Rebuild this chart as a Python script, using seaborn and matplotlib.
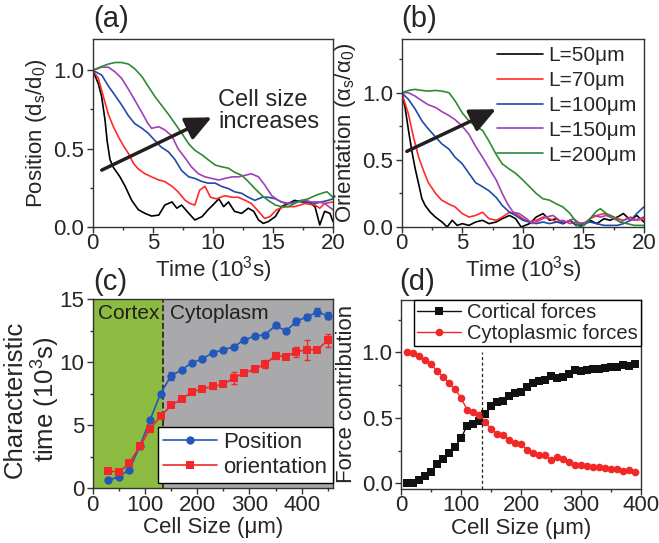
import matplotlib
matplotlib.use('Agg')
import numpy as np
import pandas as pd
import seaborn as sns
import matplotlib.pyplot as plt
from matplotlib.ticker import MultipleLocator
from matplotlib.lines import Line2D

# ---------------- data ----------------
# panel (a): position vs time, per cell size
a50_t = [0, 0.47, 0.75, 1.03, 1.2, 1.44, 1.72, 2.0, 2.27, 2.7, 3.0, 3.25, 3.8, 4.35, 4.9, 5.5, 6.0, 6.6, 7.0, 7.4,
         8.0, 8.5, 9.1, 9.6, 10.0, 10.5, 10.9, 11.3, 11.8, 12.4, 12.95, 13.4, 13.8, 14.2, 14.6, 15.2, 15.7, 16.3, 16.8, 17.4,
         17.95, 18.5, 18.9, 19.3, 19.75, 20]
a50_y = [1.0, 0.915, 0.83, 0.68, 0.55, 0.43, 0.38, 0.35, 0.32, 0.26, 0.21, 0.17, 0.11, 0.087, 0.07, 0.076, 0.14, 0.16, 0.12, 0.14,
         0.087, 0.045, 0.066, 0.11, 0.14, 0.18, 0.13, 0.16, 0.10, 0.087, 0.12, 0.10, 0.045, 0.023, 0.034, 0.066, 0.13, 0.15, 0.17, 0.16,
         0.16, 0.13, 0.013, 0.10, 0.087, 0.034]
a70_t = [0, 0.47, 0.9, 1.3, 1.72, 2.14, 2.55, 2.97, 3.4, 3.8, 4.35, 4.9, 5.5, 6.0, 6.6, 7.1, 7.7, 8.1, 8.5, 8.9,
         9.35, 9.8, 10.3, 11.0, 11.6, 12.1, 12.7, 13.2, 13.8, 14.3, 14.75, 15.3, 16.0, 16.8, 17.7, 18.5, 18.9, 19.3, 20]
a70_y = [1.0, 0.95, 0.83, 0.72, 0.64, 0.575, 0.52, 0.47, 0.405, 0.37, 0.34, 0.32, 0.30, 0.29, 0.26, 0.225, 0.17, 0.15, 0.14, 0.235,
         0.26, 0.19, 0.18, 0.20, 0.19, 0.19, 0.17, 0.15, 0.10, 0.055, 0.066, 0.11, 0.13, 0.13, 0.15, 0.14, 0.12, 0.15, 0.16]
a100_t = [0, 0.75, 1.3, 1.86, 2.4, 2.97, 3.5, 4.1, 4.6, 5.2, 5.7, 6.3, 6.85, 7.4, 8.0, 8.5, 9.1, 9.6, 10.2, 10.7,
          11.3, 11.8, 12.4, 12.95, 13.5, 14.1, 14.6, 15.2, 15.7, 16.3, 16.8, 17.4, 17.95, 18.5, 19.05, 19.6, 20]
a100_y = [1.0, 0.97, 0.90, 0.84, 0.78, 0.71, 0.66, 0.63, 0.60, 0.55, 0.51, 0.48, 0.43, 0.36, 0.32, 0.31, 0.29, 0.28, 0.28, 0.26,
          0.245, 0.225, 0.215, 0.19, 0.17, 0.19, 0.19, 0.18, 0.16, 0.15, 0.16, 0.17, 0.16, 0.15, 0.16, 0.17, 0.18]
a150_t = [0, 0.75, 1.3, 1.86, 2.4, 2.97, 3.5, 4.1, 4.6, 4.9, 5.5, 6.0, 6.6, 7.1, 7.7, 8.2, 8.8, 9.35, 9.9, 10.5,
          11.0, 11.6, 12.1, 12.7, 13.2, 13.8, 14.3, 14.9, 15.45, 16.0, 16.6, 17.1, 17.7, 18.2, 18.8, 19.3, 20]
a150_y = [1.0, 1.02, 1.02, 0.99, 0.95, 0.88, 0.81, 0.73, 0.66, 0.63, 0.64, 0.62, 0.58, 0.50, 0.44, 0.385, 0.34, 0.32, 0.31, 0.30,
          0.31, 0.32, 0.32, 0.33, 0.34, 0.32, 0.27, 0.20, 0.17, 0.15, 0.15, 0.16, 0.17, 0.16, 0.16, 0.15, 0.11]
a200_t = [0, 0.75, 1.3, 1.86, 2.4, 2.97, 3.5, 4.1, 4.6, 5.2, 5.7, 6.3, 6.85, 7.4, 8.0, 8.5, 9.1, 9.6, 10.2, 10.7,
          11.3, 11.8, 12.4, 12.95, 13.5, 14.1, 14.6, 15.2, 15.7, 16.3, 16.8, 17.4, 17.95, 18.5, 19.05, 19.5, 20]
a200_y = [1.0, 1.025, 1.04, 1.05, 1.05, 1.04, 1.01, 0.96, 0.90, 0.83, 0.78, 0.72, 0.66, 0.60, 0.53, 0.49, 0.46, 0.43, 0.395, 0.385,
          0.375, 0.35, 0.33, 0.29, 0.245, 0.20, 0.17, 0.14, 0.13, 0.13, 0.15, 0.17, 0.18, 0.20, 0.215, 0.225, 0.19]

# panel (b): orientation vs time
b50_t = [0, 0.28, 0.56, 0.83, 1.1, 1.4, 1.67, 1.94, 2.36, 2.78, 3.33, 3.75, 4.17, 4.58, 5.0, 5.55, 6.1, 6.67, 7.2, 7.8,
         8.3, 8.9, 9.4, 9.86, 10.55, 11.1, 11.67, 12.2, 12.8, 13.3, 13.9, 14.4, 15.0, 15.55, 16.1, 16.7, 17.2, 17.8, 18.3, 18.9,
         19.4, 20]
b50_y = [1.0, 0.89, 0.72, 0.57, 0.44, 0.32, 0.21, 0.16, 0.11, 0.074, 0.037, 0.0, 0.05, 0.012, 0.025, 0.012, 0.037, 0.05, 0.025, 0.037,
         0.062, 0.086, 0.062, 0.0, 0.025, 0.074, 0.10, 0.05, 0.062, 0.025, 0.05, 0.012, 0.012, 0.05, 0.025, 0.062, 0.05, 0.074, 0.10, 0.05,
         0.086, 0.037]
b70_t = [0, 0.56, 0.97, 1.4, 1.8, 2.2, 2.8, 3.3, 3.9, 4.4, 5.0, 5.55, 6.1, 6.67, 7.2, 7.8, 8.3, 8.9, 9.4, 10.0,
         10.55, 11.1, 11.67, 12.2, 12.8, 13.3, 13.9, 14.4, 15.0, 15.55, 16.1, 16.7, 17.2, 17.8, 18.3, 18.9, 19.4, 20]
b70_y = [1.0, 0.84, 0.67, 0.52, 0.42, 0.33, 0.25, 0.20, 0.17, 0.15, 0.10, 0.074, 0.086, 0.11, 0.062, 0.05, 0.074, 0.11, 0.10, 0.062,
         0.037, 0.05, 0.074, 0.062, 0.037, 0.05, 0.025, 0.037, 0.025, 0.062, 0.086, 0.10, 0.086, 0.062, 0.05, 0.074, 0.05, 0.062]
b100_t = [0, 0.56, 1.1, 1.67, 2.2, 2.8, 3.3, 3.9, 4.4, 5.0, 5.55, 6.1, 6.67, 7.2, 7.8, 8.3, 8.9, 9.4, 10.0, 10.55,
          11.1, 11.67, 12.2, 12.8, 13.3, 13.9, 14.4, 15.0, 15.55, 16.1, 16.7, 17.2, 17.8, 18.3, 18.9, 19.4, 20]
b100_y = [1.0, 0.95, 0.88, 0.79, 0.73, 0.67, 0.62, 0.58, 0.52, 0.47, 0.40, 0.33, 0.30, 0.27, 0.22, 0.16, 0.11, 0.086, 0.05, 0.037,
          0.025, 0.037, 0.025, 0.037, 0.025, 0.05, 0.012, 0.025, 0.037, 0.025, 0.012, 0.012, 0.012, 0.025, 0.05, 0.10, 0.15]
b150_t = [0, 0.56, 1.1, 1.67, 2.2, 2.8, 3.3, 3.9, 4.4, 5.0, 5.55, 6.1, 6.67, 7.2, 7.8, 8.3, 8.75, 9.2, 9.7, 10.3,
          10.8, 11.4, 11.9, 12.5, 13.0, 13.6, 14.2, 14.7, 15.3, 15.8, 16.4, 16.9, 17.5, 18.05, 18.6, 19.2, 20]
b150_y = [1.0, 1.0, 0.975, 0.94, 0.91, 0.89, 0.86, 0.83, 0.80, 0.75, 0.69, 0.60, 0.52, 0.44, 0.35, 0.25, 0.17, 0.11, 0.10, 0.062,
          0.025, 0.05, 0.074, 0.086, 0.05, 0.037, 0.062, 0.025, 0.037, 0.086, 0.074, 0.086, 0.062, 0.037, 0.062, 0.05, 0.074]
b200_t = [0, 0.56, 1.1, 1.67, 2.2, 2.8, 3.3, 3.9, 4.4, 5.0, 5.55, 6.1, 6.67, 7.2, 7.8, 8.3, 8.9, 9.4, 10.0, 10.55,
          11.1, 11.67, 12.2, 12.8, 13.3, 13.9, 14.4, 14.7, 15.0, 15.55, 16.1, 16.4, 16.9, 17.5, 18.05, 18.6, 19.2, 20]
b200_y = [1.0, 1.017, 1.025, 1.017, 1.012, 1.017, 1.012, 1.0, 0.94, 0.85, 0.79, 0.75, 0.72, 0.64, 0.54, 0.47, 0.43, 0.40, 0.35, 0.30,
          0.25, 0.21, 0.20, 0.17, 0.15, 0.10, 0.037, 0.0, 0.012, 0.062, 0.12, 0.136, 0.10, 0.074, 0.037, 0.025, 0.012, 0.012]

size_labels = ['L=50μm', 'L=70μm', 'L=100μm', 'L=150μm', 'L=200μm']
size_colors = ['#000000', '#ff2a2a', '#1f4aa8', '#a040b8', '#2e8a34']

# panel (c): characteristic time vs cell size
c_size = [30, 50, 70, 90, 110, 130, 150, 170, 190, 210, 230, 250, 270, 290, 310, 330, 350, 370, 390, 410, 430, 450]
c_pos = [0.61, 0.9, 1.45, 3.3, 5.42, 7.5, 8.9, 9.37, 9.95, 10.24, 10.74, 10.98, 11.19, 11.77, 12.04, 12.17,
         12.9, 12.46, 13.23, 13.57, 13.97, 13.68]
c_pos_err = [0.1, 0.1, 0.1, 0.1, 0.1, 0.1, 0.3, 0.15, 0.15, 0.2, 0.15, 0.15, 0.15, 0.15, 0.15, 0.15,
             0.2, 0.15, 0.3, 0.25, 0.3, 0.25]
c_ori = [1.38, 1.24, 1.98, 3.3, 4.71, 5.69, 6.56, 7.06, 7.62, 7.88, 8.07, 8.23, 8.73, 9.13, 9.44, 9.84,
         10.5, 10.42, 10.82, 10.98, 10.98, 11.72]
c_ori_err = [0.1, 0.1, 0.1, 0.1, 0.1, 0.1, 0.15, 0.15, 0.15, 0.15, 0.2, 0.15, 0.45, 0.2, 0.2, 0.3,
             0.3, 0.2, 0.4, 0.8, 0.15, 0.5]
c_threshold = 135

# panel (d): force contributions
d_size = [10, 20, 30, 40, 50, 60, 70, 80, 90, 100, 110, 120, 130, 140, 150, 160, 170, 180, 190, 200,
          210, 220, 230, 240, 250, 260, 270, 280, 290, 300, 310, 320, 330, 340, 350, 360, 370, 380, 390]
d_cortical = [0.0, 0.005, 0.023, 0.056, 0.089, 0.145, 0.183, 0.234, 0.277, 0.344, 0.438, 0.453, 0.473, 0.529, 0.588,
              0.621, 0.631, 0.664, 0.692, 0.699, 0.738, 0.768, 0.784, 0.786, 0.819, 0.804, 0.814, 0.837, 0.865, 0.860,
              0.868, 0.875, 0.870, 0.883, 0.885, 0.888, 0.906, 0.898, 0.908]
d_cyto = [1.0, 0.992, 0.972, 0.941, 0.911, 0.858, 0.814, 0.768, 0.718, 0.654, 0.562, 0.545, 0.522, 0.471, 0.415,
          0.379, 0.369, 0.333, 0.308, 0.300, 0.257, 0.229, 0.216, 0.216, 0.178, 0.198, 0.188, 0.163, 0.137, 0.137,
          0.132, 0.125, 0.127, 0.115, 0.110, 0.107, 0.092, 0.099, 0.089]

# ---------------- style ----------------
sns.set_style('ticks')
plt.rcParams['font.family'] = ['Liberation Sans', 'DejaVu Sans']
plt.rcParams['mathtext.fontset'] = 'custom'
plt.rcParams['mathtext.rm'] = 'Liberation Sans'
plt.rcParams['mathtext.it'] = 'Liberation Sans:italic'
plt.rcParams['axes.edgecolor'] = '#333333'
plt.rcParams['axes.linewidth'] = 1.0

fig = plt.figure(figsize=(6.59, 5.43), dpi=100)
W, H = 659.0, 543.0


def ax_at(l, r, t, b):
    return fig.add_axes([l / W, 1 - b / H, (r - l) / W, (b - t) / H])


axa = ax_at(92.7, 333, 39, 227)
axb = ax_at(401.7, 644, 39, 227)
axc = ax_at(92.7, 333, 299, 488)
axd = ax_at(401, 641, 300, 488.5)

TICK = 16


def style(ax, xpad=1.0):
    ax.tick_params(which='major', direction='out', length=4, width=1, color='#333333',
                   labelsize=TICK, pad=2, top=False, right=False)
    ax.tick_params(which='minor', direction='out', length=2.5, width=1, color='#333333',
                   top=False, right=False)
    ax.tick_params(axis='x', which='major', pad=xpad)
    for s in ax.spines.values():
        s.set_visible(True)


def long_df(ts, ys):
    rows = []
    for lab, t, y in zip(size_labels, ts, ys):
        rows.append(pd.DataFrame({'t': t, 'y': y, 'L': lab}))
    return pd.concat(rows, ignore_index=True)


pal = dict(zip(size_labels, size_colors))
ARROW = dict(arrowstyle='-|>,head_length=0.65,head_width=0.3', lw=2.5,
             color='#231f20', mutation_scale=24, shrinkA=0, shrinkB=0)

# ---- (a)
dfa = long_df([a50_t, a70_t, a100_t, a150_t, a200_t], [a50_y, a70_y, a100_y, a150_y, a200_y])
sns.lineplot(data=dfa, x='t', y='y', hue='L', palette=pal, estimator=None, sort=False,
             linewidth=1.2, legend=False, ax=axa)
axa.set_xlim(0, 20)
axa.set_ylim(0, 1.2)
axa.xaxis.set_major_locator(MultipleLocator(5))
axa.xaxis.set_minor_locator(MultipleLocator(2.5))
axa.yaxis.set_major_locator(MultipleLocator(0.5))
axa.yaxis.set_minor_locator(MultipleLocator(0.25))
axa.set_xlabel('Time (10$^3$s)', fontsize=16, labelpad=0)
axa.set_ylabel('Position (d$_\\mathrm{s}$/d$_\\mathrm{0}$)', fontsize=16, labelpad=3)
style(axa, xpad=0.5)
axa.annotate('', xy=(9.9, 0.70), xytext=(0.75, 0.363), arrowprops=ARROW)
axa.text(10.46, 0.88, 'Cell size\nincreases', fontsize=17, ha='left', va='top', linespacing=1.0)

# ---- (b)
dfb = long_df([b50_t, b70_t, b100_t, b150_t, b200_t], [b50_y, b70_y, b100_y, b150_y, b200_y])
sns.lineplot(data=dfb, x='t', y='y', hue='L', palette=pal, estimator=None, sort=False,
             linewidth=1.2, legend=False, ax=axb)
axb.set_xlim(0, 20)
axb.set_ylim(0, 1.4)
axb.xaxis.set_major_locator(MultipleLocator(5))
axb.xaxis.set_minor_locator(MultipleLocator(2.5))
axb.yaxis.set_major_locator(MultipleLocator(0.5))
axb.yaxis.set_minor_locator(MultipleLocator(0.25))
axb.set_xlabel('Time (10$^3$s)', fontsize=16, labelpad=0)
axb.set_ylabel('Orientation (α$_\\mathrm{s}$/α$_\\mathrm{0}$)', fontsize=16, labelpad=3)
style(axb, xpad=0.5)
handles = [Line2D([], [], color=c, lw=1.2) for c in size_colors]
axb.legend(handles, size_labels, loc='upper right', frameon=False, fontsize=15,
           handlelength=2.2, handletextpad=0.25, labelspacing=0.28, borderaxespad=0.15,
           borderpad=0.2)
axb.annotate('', xy=(7.78, 0.877), xytext=(0.42, 0.563), arrowprops=ARROW)

# ---- (c)
axc.axvspan(0, c_threshold, color='#8cbb42', lw=0, zorder=0)
axc.axvspan(c_threshold, 470, color='#a9a9ac', lw=0, zorder=0)
axc.axvline(c_threshold, color='#222222', ls='--', lw=1.2, zorder=1)
dfc = pd.concat([pd.DataFrame({'size': c_size, 'tau': c_pos, 'err': c_pos_err, 'kind': 'Position'}),
                 pd.DataFrame({'size': c_size, 'tau': c_ori, 'err': c_ori_err, 'kind': 'orientation'})],
                ignore_index=True)
cpal = {'Position': '#2458b8', 'orientation': '#f0282a'}
for kind in ['Position', 'orientation']:
    sub = dfc[dfc['kind'] == kind]
    axc.errorbar(sub['size'], sub['tau'], yerr=sub['err'], fmt='none', ecolor=cpal[kind],
                 elinewidth=1, capsize=2, capthick=1, zorder=2)
sns.lineplot(data=dfc, x='size', y='tau', hue='kind', style='kind', palette=cpal,
             markers={'Position': 'o', 'orientation': 's'}, dashes=False, markersize=6,
             markeredgewidth=0, linewidth=1.2, estimator=None, legend=False, ax=axc, zorder=3)
axc.set_xlim(0, 460)
axc.set_ylim(0, 15)
axc.xaxis.set_major_locator(MultipleLocator(100))
axc.xaxis.set_minor_locator(MultipleLocator(50))
axc.yaxis.set_major_locator(MultipleLocator(5))
axc.yaxis.set_minor_locator(MultipleLocator(2.5))
axc.set_xlabel('Cell Size (μm)', fontsize=16, labelpad=1)
axc.set_ylabel('Characteristic\ntime (10$^3$s)', fontsize=18.5, linespacing=1.12)
axc.yaxis.set_label_coords(-0.128, 0.47)
style(axc)
axc.text(10.7, 13.87, 'Cortex', fontsize=15, ha='left', va='center', color='#231f20')
axc.text(148, 13.87, 'Cytoplasm', fontsize=15, ha='left', va='center', color='#231f20')
ch = [Line2D([], [], color=cpal['Position'], marker='o', ms=6, mew=0, lw=1.2),
      Line2D([], [], color=cpal['orientation'], marker='s', ms=6, mew=0, lw=1.2)]
legc = axc.legend(ch, ['Position', 'orientation'], loc='lower right', bbox_to_anchor=(1.0, 0.026),
                  fontsize=16, frameon=True, fancybox=False, framealpha=1, edgecolor='black',
                  handlelength=2.4, handletextpad=0.3, labelspacing=0.15, borderaxespad=0, borderpad=0.25)
legc.get_frame().set_linewidth(1.0)

# ---- (d)
dfd = pd.concat([pd.DataFrame({'size': d_size, 'f': d_cortical, 'kind': 'Cortical forces'}),
                 pd.DataFrame({'size': d_size, 'f': d_cyto, 'kind': 'Cytoplasmic forces'})],
                ignore_index=True)
dpal = {'Cortical forces': '#111111', 'Cytoplasmic forces': '#f02828'}
sns.lineplot(data=dfd, x='size', y='f', hue='kind', style='kind', palette=dpal,
             markers={'Cortical forces': 's', 'Cytoplasmic forces': 'o'}, dashes=False, markersize=5.5,
             markeredgewidth=0, linewidth=1.0, estimator=None, legend=False, ax=axd)
axd.axvline(c_threshold, color='#222222', ls=(0, (2.5, 2)), lw=0.9, ymin=0, ymax=(1.0 + 0.04) / 1.44)
axd.set_xlim(0, 400)
axd.set_ylim(-0.04, 1.4)
axd.xaxis.set_major_locator(MultipleLocator(100))
axd.xaxis.set_minor_locator(MultipleLocator(50))
axd.yaxis.set_major_locator(MultipleLocator(0.5))
axd.yaxis.set_minor_locator(MultipleLocator(0.25))
axd.set_xlabel('Cell Size (μm)', fontsize=16, labelpad=1)
axd.set_ylabel('Force contribution', fontsize=16, labelpad=3)
style(axd)
dh = [Line2D([], [], color=dpal['Cortical forces'], marker='s', ms=5.5, mew=0, lw=1.0),
      Line2D([], [], color=dpal['Cytoplasmic forces'], marker='o', ms=5.5, mew=0, lw=1.0)]
legd = axd.legend(dh, ['Cortical forces', 'Cytoplasmic forces'], loc='upper right',
                  fontsize=14.5, frameon=True, fancybox=False, framealpha=1, edgecolor='black',
                  handlelength=2.2, handletextpad=0.3, labelspacing=0.1, borderaxespad=0, borderpad=0.15)
legd.get_frame().set_linewidth(1.0)

# panel labels
for lab, x, y in [('(a)', 93, 19), ('(b)', 401, 19), ('(c)', 93, 282), ('(d)', 399, 282)]:
    fig.text(x / W, 1 - y / H, lab, fontsize=21, ha='left', va='center')

fig.savefig('out.png', dpi=100)
